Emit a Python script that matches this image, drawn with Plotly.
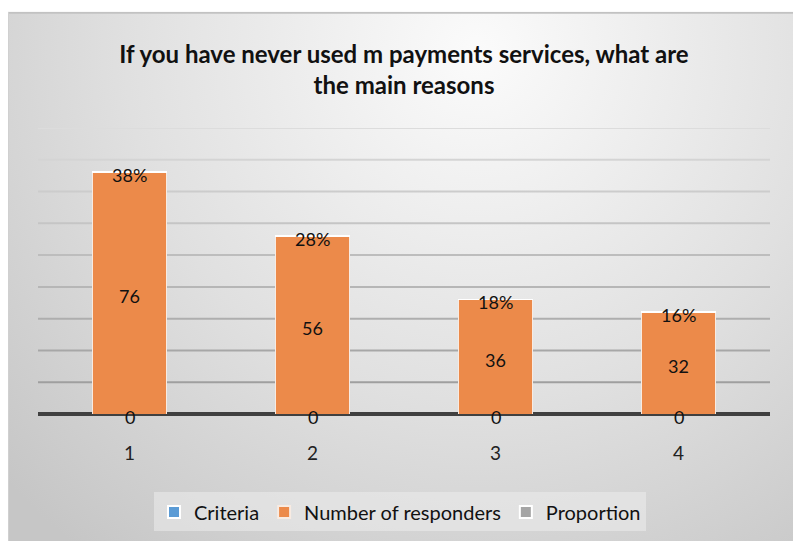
import base64
import plotly.graph_objects as go

# Survey results: reasons for never using mobile payment services
categories = ["1", "2", "3", "4"]
criteria = [0, 0, 0, 0]
responders = [76, 56, 36, 32]
proportion = [0.38, 0.28, 0.18, 0.16]
y_ticks = [10, 20, 30, 40, 50, 60, 70, 80, 90]

FONT = "Lato, 'Open Sans', sans-serif"
W, H = 793, 544
L, R, T, B = 38, 23, 128, 128
PW, PH = W - L - R, H - T - B

# soft radial backdrop for the chart panel
panel_w, panel_h = 785, 533
svg = f"""<svg xmlns='http://www.w3.org/2000/svg' width='{panel_w}' height='{panel_h}' viewBox='0 0 {panel_w} {panel_h}' preserveAspectRatio='none'>
<defs><radialGradient id='g' gradientUnits='userSpaceOnUse' cx='470' cy='40' r='640'>
<stop offset='0' stop-color='#fbfbfb'/><stop offset='0.55' stop-color='#e0e0e0'/><stop offset='1' stop-color='#c6c6c6'/>
</radialGradient></defs>
<rect x='0' y='0' width='{panel_w}' height='{panel_h}' fill='url(#g)'/>
<line x1='0' y1='1' x2='{panel_w}' y2='1' stroke='#c2c2c2' stroke-width='2'/>
<line x1='0.5' y1='0' x2='0.5' y2='{panel_h}' stroke='#d0d0d0' stroke-width='1'/>
</svg>"""
bg_uri = "data:image/svg+xml;base64," + base64.b64encode(svg.encode()).decode()

fig = go.Figure()

fig.add_trace(go.Bar(name="Criteria", x=categories, y=criteria,
                     marker=dict(color="#5B9BD5", line=dict(color="white", width=1))))
fig.add_trace(go.Bar(name="Number of responders", x=categories, y=responders,
                     marker=dict(color="#EC8A4A", line=dict(color="#f8ebe2", width=1))))
fig.add_trace(go.Bar(name="Proportion", x=categories, y=proportion,
                     marker=dict(color="#A5A5A5", line=dict(color="white", width=1))))

# data labels centred on each stacked segment (x given as category index)
lbl_font = dict(family=FONT, size=18, color="#111111")
annotations = []
for i, (c, r, p) in enumerate(zip(criteria, responders, proportion)):
    for y, txt in ((c / 2, str(c)),
                   (c + r / 2, str(r)),
                   (c + r + p / 2, f"{round(p * 100)}%")):
        annotations.append(dict(x=i, y=y, xref="x", yref="y", text=txt,
                                showarrow=False, yanchor="middle", yshift=-3,
                                font=lbl_font))

# gridlines darken toward the baseline
shapes = []
for t in y_ticks:
    frac = t / 90
    g = int(0x98 + (0xdc - 0x98) * frac)
    shapes.append(dict(type="line", xref="paper", x0=0, x1=1, yref="y", y0=t, y1=t,
                       line=dict(color=f"rgb({g},{g},{g})", width=2), layer="below"))
# baseline (value 0 sits at the bottom of the plot area)
shapes.append(dict(type="line", xref="paper", x0=0, x1=1, yref="paper", y0=0, y1=0,
                   line=dict(color="#404040", width=4), layer="below"))

fig.update_layout(
    width=W, height=H,
    margin=dict(l=L, r=R, t=T, b=B, pad=0),
    paper_bgcolor="white", plot_bgcolor="rgba(0,0,0,0)",
    barmode="stack", bargap=0.6,
    title=dict(text="If you have never used m payments services, what are<br>the main reasons",
               x=404 / W, xanchor="center", y=1 - 63 / H, yanchor="middle",
               font=dict(family=FONT, size=24, color="#111111", weight="bold")),
    font=dict(family=FONT, size=18, color="#222222"),
    xaxis=dict(type="category", showgrid=False, zeroline=False, showline=False, ticks="",
               tickfont=dict(family=FONT, size=19, color="#222222"), ticklabelstandoff=26),
    yaxis=dict(range=[0, 90], showgrid=False, zeroline=False, showline=False,
               showticklabels=False, ticks=""),
    legend=dict(orientation="h", x=(400 - L) / PW, xanchor="center",
                y=(416 - 495) / PH, yanchor="top",
                bgcolor="rgba(236,236,236,0.55)", borderwidth=0,
                font=dict(family=FONT, size=20, color="#111111"),
                itemsizing="constant", traceorder="normal"),
    shapes=shapes,
    annotations=annotations,
    images=[dict(source=bg_uri, xref="paper", yref="paper",
                 x=(8 - L) / PW, y=(416 - 11) / PH,
                 sizex=panel_w / PW, sizey=panel_h / PH,
                 xanchor="left", yanchor="top", sizing="stretch", layer="below")],
    showlegend=True,
)

fig.write_html("out.html")
